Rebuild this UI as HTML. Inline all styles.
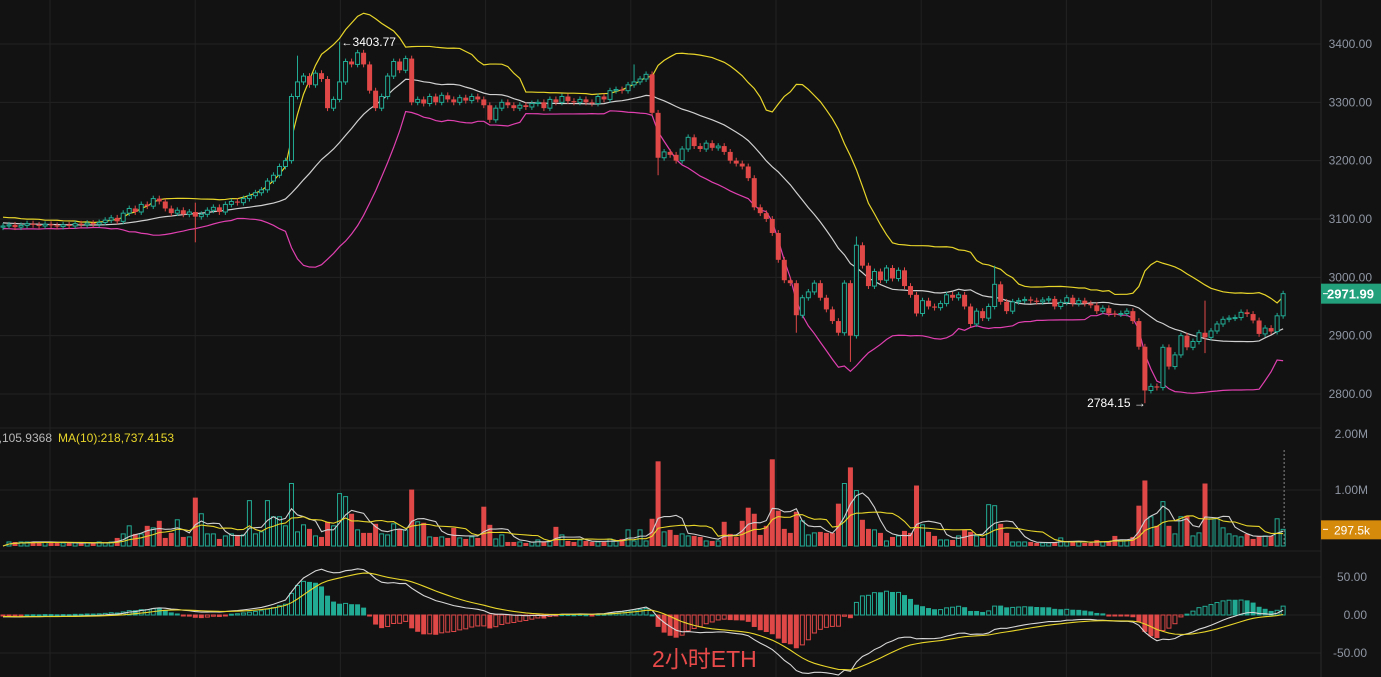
<!DOCTYPE html>
<html><head><meta charset="utf-8"><style>
html,body{margin:0;padding:0;background:#121212;overflow:hidden}
svg{display:block;font-family:"Liberation Sans","Noto Sans CJK SC",sans-serif}
</style></head><body>
<svg id="c" width="1381" height="677" viewBox="0 0 1381 677">
<rect x="0" y="0" width="1381" height="677" fill="#121212"/>
<g id="grid"></g>
<g id="bands"></g>
<g id="candles"></g>
<g id="vol"></g>
<g id="macd"></g>
<g id="axis"></g>
<text x="52" y="442" text-anchor="end" fill="#b8b8b8" font-size="12">MA(5):263,105.9368</text>
<text x="58" y="442" fill="#e8d52a" font-size="12">MA(10):218,737.4153</text>
<text x="652" y="667" fill="#e84a4a" font-size="23">2小时ETH</text>
</svg>
<script>
const history = [3100,3095,3102,3098,3090,3094,3100,3088,3092,3097,3085,3093,3099,3090,3096,3088,3094,3091,3086];
const closes = [3088,3090,3086,3089,3092,3090,3088,3091,3089,3087,3090,3088,3092,3090,3093,3091,3094,
3098,3102,3096,3110,3118,3112,3125,3122,3135,
3130,3118,3110,3115,3108,3112,3104,3108,
3115,3120,3112,3125,3130,
3128,3135,3140,3145,3150,
3165,3175,3190,3200,
3310,
3335,3345,3330,3350,3340,
3290,
3305,3335,3370,3365,
3385,3365,3320,3290,
3310,3345,3370,3355,3375,
3300,
3305,3298,3310,3300,3312,3305,3300,3308,3303,3310,3305,3295,
3270,3290,3300,3295,3290,
3295,3292,3298,3300,3290,3305,3300,3310,3302,3300,
3305,3300,3298,3310,3305,3320,3322,3320,3330,3335,
3340,3348,
3282,
3205,
3215,3210,3200,3220,3240,3225,3220,
3230,3222,3225,3215,
3200,3195,3190,3170,3120,3110,3100,3076,3030,2995,2990,2935,2965,2975,2990,2965,2945,2925,2905,2990,2900,3055,3020,2985,3010,2995,
3016,2998,3012,2985,2970,2938,2960,2950,2948,2955,2970,2965,2970,2950,2920,2942,2930,2950,2988,2958,2942,2958,2960,2962,2960,2958,2961,2963,2950,2957,2965,2955,2960,2955,2952,2942,2947,2938,2937,2938,2942,2925,2881,2806,2813,2811,2880,2847,2867,2900,2880,2890,2905,2897,2908,2920,2928,2930,2931,2940,2937,2926,2903,2913,2907,2934,2971.99];
const highs = {32:3128,49:3380,56:3403.77,105:3365,142:3070,165:3020,200:2960};
const lows = {32:3060,109:3175,132:2905,141:2855,190:2784.15,200:2870};
const volumes = [72,72,72,72,72,72,72,72,54,54,54,54,54,54,54,72,
54,72,144,216,360,216,216,360,324,450,144,234,468,162,162,864,576,216,216,126,180,216,198,198,810,216,252,810,522,522,360,1116,252,378,306,180,162,432,360,936,882,576,288,234,234,396,216,198,396,306,288,1008,432,414,
162,162,162,144,324,144,126,162,144,702,378,126,198,72,72,72,54,72,108,72,90,342,198,90,72,108,90,72,72,72,126,90,126,288,90,288,90,486,1512,252,288,198,216,180,180,162,90,90,90,432,216,162,450,684,576,198,360,1548,630,306,234,612,450,198,234,252,234,234,756,1116,1404,990,468,306,288,234,90,162,180,270,234,1080,378,252,180,108,108,108,180,288,252,180,144,738,720,396,234,72,72,72,72,54,54,54,72,144,72,72,72,54,54,108,72,90,180,108,108,162,720,1170,522,360,792,360,216,522,540,180,234,1116,486,486,324,216,180,162,216,126,180,180,180,486,297.5];
const priceTicks = [3400,3300,3200,3100,3000,2900,2800];
const volTicks = [2,1];
const macdTicks = [50,0,-50];

const NS='http://www.w3.org/2000/svg';
const GREEN='#22ab94', RED='#e04848';
const N=closes.length;
const xOf=i=>3+6.01*i;
const yP=p=>44+(3400-p)*0.5833;
const yV=v=>546-v/1000*56;
const yM=m=>615-m*0.76;
function el(tag,attrs,parent){const e=document.createElementNS(NS,tag);for(const k in attrs)e.setAttribute(k,attrs[k]);parent.appendChild(e);return e;}
const G=id=>document.getElementById(id);

// grid
const grid=G('grid');
for(let k=0;k<9;k++){const x=50+145.2*k;const l=el('line',{x1:x,y1:0,x2:x,y2:677,stroke:'#222',"stroke-width":1},grid);

}
const hy=[...priceTicks.map(yP),428,yV(1000),551,...macdTicks.map(yM)];
hy.forEach(y=>{const l=el('line',{x1:0,y1:y,x2:1321,y2:y,stroke:'#222',"stroke-width":1},grid);

});
const sep=el('line',{x1:1321,y1:0,x2:1321,y2:677,stroke:'#2a2a2a'},grid);



// bollinger
const all=history.concat(closes);
const up=[],mid=[],lo=[];
for(let i=0;i<N;i++){const j=i+history.length;const w=all.slice(Math.max(0,j-19),j+1);const m=w.reduce((a,b)=>a+b,0)/w.length;
const sd=Math.sqrt(w.reduce((a,b)=>a+(b-m)*(b-m),0)/w.length);mid.push(m);up.push(m+2*sd);lo.push(m-2*sd);}
const bands=G('bands');
[[up,'#e8d52a','bb-upper'],[mid,'#d0d0d0','bb-middle'],[lo,'#e040b0','bb-lower']].forEach(([a,c,n])=>{
const p=el('polyline',{points:a.map((v,i)=>xOf(i)+','+yP(v)).join(' '),fill:'none',stroke:c,"stroke-width":1.2},bands);

});

// candles
const cg=G('candles');
const opens=closes.map((c,i)=>i?closes[i-1]:history[history.length-1]);
for(let i=0;i<N;i++){const o=opens[i],c=closes[i],upC=c>=o;const col=upC?GREEN:RED;
const hi=highs[i]!==undefined?highs[i]:Math.max(o,c)+5;const lw=lows[i]!==undefined?lows[i]:Math.min(o,c)-5;
const x=xOf(i);
const g=el('g',{},cg);


el('line',{x1:x,y1:yP(hi),x2:x,y2:yP(lw),stroke:col,"stroke-width":1},g);
const t=yP(Math.max(o,c)),b=yP(Math.min(o,c));const h=Math.max(1,b-t);
if(upC)el('rect',{x:x-2,y:t,width:4,height:h,fill:'#121212',stroke:col,"stroke-width":1},g);
else el('rect',{x:x-2.5,y:t,width:5,height:h,fill:col},g);}

// extremes labels
const hiI=56, loI=190;
const tH=el('text',{x:xOf(hiI)+13,y:yP(highs[hiI])+4,fill:'#fff',"font-size":12},cg);tH.textContent='3403.77';


const aH=el('text',{x:xOf(hiI)+2,y:yP(highs[hiI])+4,fill:'#fff',"font-size":11},cg);aH.textContent='←';


const tL=el('text',{x:xOf(loI)+1,y:yP(lows[loI])+4,fill:'#fff',"font-size":12,"text-anchor":"end"},cg);tL.textContent='2784.15 →';



// volume (aligned so the last value is the current candle)
const vg=G('vol');
const vOff=N-volumes.length;
const volAt=i=>{const v=volumes[i-vOff];return v===undefined?0:v;};
const volSeries=closes.map((c,i)=>volAt(i));
for(let i=0;i<N;i++){const v=volSeries[i];const upC=closes[i]>=opens[i];const col=upC?GREEN:RED;const x=xOf(i);
const r=upC?el('rect',{x:x-2,y:yV(v),width:4,height:546-yV(v),fill:'none',stroke:col,"stroke-width":1},vg):el('rect',{x:x-2.5,y:yV(v),width:5,height:546-yV(v),fill:col},vg);

}
function ma(a,n){return a.map((v,i)=>{const w=a.slice(Math.max(0,i-n+1),i+1);return w.reduce((s,b)=>s+b,0)/w.length;});}
[[ma(volSeries,5),'#cfcfcf','volume-ma5'],[ma(volSeries,10),'#e8d52a','volume-ma10']].forEach(([a,c,n])=>{
const p=el('polyline',{points:a.map((v,i)=>xOf(i)+','+yV(v)).join(' '),fill:'none',stroke:c,"stroke-width":1.1},vg);

});
const dl=el('line',{x1:xOf(N-1)+1,y1:450,x2:xOf(N-1)+1,y2:546,stroke:'#888',"stroke-dasharray":"2,2"},vg);



// macd
const mg=G('macd');
function ema(a,n){const k=2/(n+1);const r=[];a.forEach((v,i)=>r.push(i?v*k+r[i-1]*(1-k):v));return r;}
const e12=ema(all,12),e26=ema(all,26);const difAll=e12.map((v,i)=>v-e26[i]);const deaAll=ema(difAll,9);
const off=history.length;const dif=difAll.slice(off),dea=deaAll.slice(off);const hist=dif.map((v,i)=>2*(v-dea[i]));
for(let i=0;i<N;i++){const h=hist[i],prev=i?hist[i-1]:h;const col=h>=0?GREEN:RED;const hollow=(h>=0&&h>=prev)||(h<0&&h>=prev);
const y0=yM(0),y1=yM(h);const x=xOf(i);
const r=el('rect',{x:x-2,y:Math.min(y0,y1),width:4,height:Math.max(1,Math.abs(y1-y0)),fill:hollow?'none':col,stroke:col,"stroke-width":1},mg);

}
[[dif,'#d8d8d8','macd-dif-line'],[dea,'#e8d52a','macd-dea-line']].forEach(([a,c,n])=>{
const p=el('polyline',{points:a.map((v,i)=>xOf(i)+','+yM(v)).join(' '),fill:'none',stroke:c,"stroke-width":1.1},mg);

});

// axis labels
const ax=G('axis');
priceTicks.forEach(p=>{const t=el('text',{x:1372,y:yP(p)+4,fill:'#8f96a3',"font-size":12,"text-anchor":"end"},ax);t.textContent=p.toFixed(2);

});
volTicks.forEach(v=>{const t=el('text',{x:1368,y:yV(v*1000)+4,fill:'#8f96a3',"font-size":12,"text-anchor":"end"},ax);t.textContent=v.toFixed(2)+'M';

});
macdTicks.forEach(m=>{const t=el('text',{x:1367,y:yM(m)+4,fill:'#8f96a3',"font-size":12,"text-anchor":"end"},ax);t.textContent=m.toFixed(2);

});
const last=closes[N-1];const ly=yP(last);
const pt=el('rect',{x:1321,y:ly-10,width:60,height:20,fill:'#22a07c'},ax);


el('line',{x1:1323,y1:ly,x2:1328,y2:ly,stroke:'#fff'},ax);
const ptt=el('text',{x:1374,y:ly+5,fill:'#fff',"font-size":13,"font-weight":"bold","text-anchor":"end"},ax);ptt.textContent=last.toFixed(2);


const lv=volumes[volumes.length-1];const vy=yV(lv);
const vt=el('rect',{x:1321,y:vy-9,width:60,height:19,fill:'#d68a0c'},ax);


el('line',{x1:1323,y1:vy,x2:1328,y2:vy,stroke:'#fff'},ax);
const vtt=el('text',{x:1370,y:vy+5,fill:'#fff',"font-size":12,"text-anchor":"end"},ax);vtt.textContent=lv+'k';


</script>
</body></html>
